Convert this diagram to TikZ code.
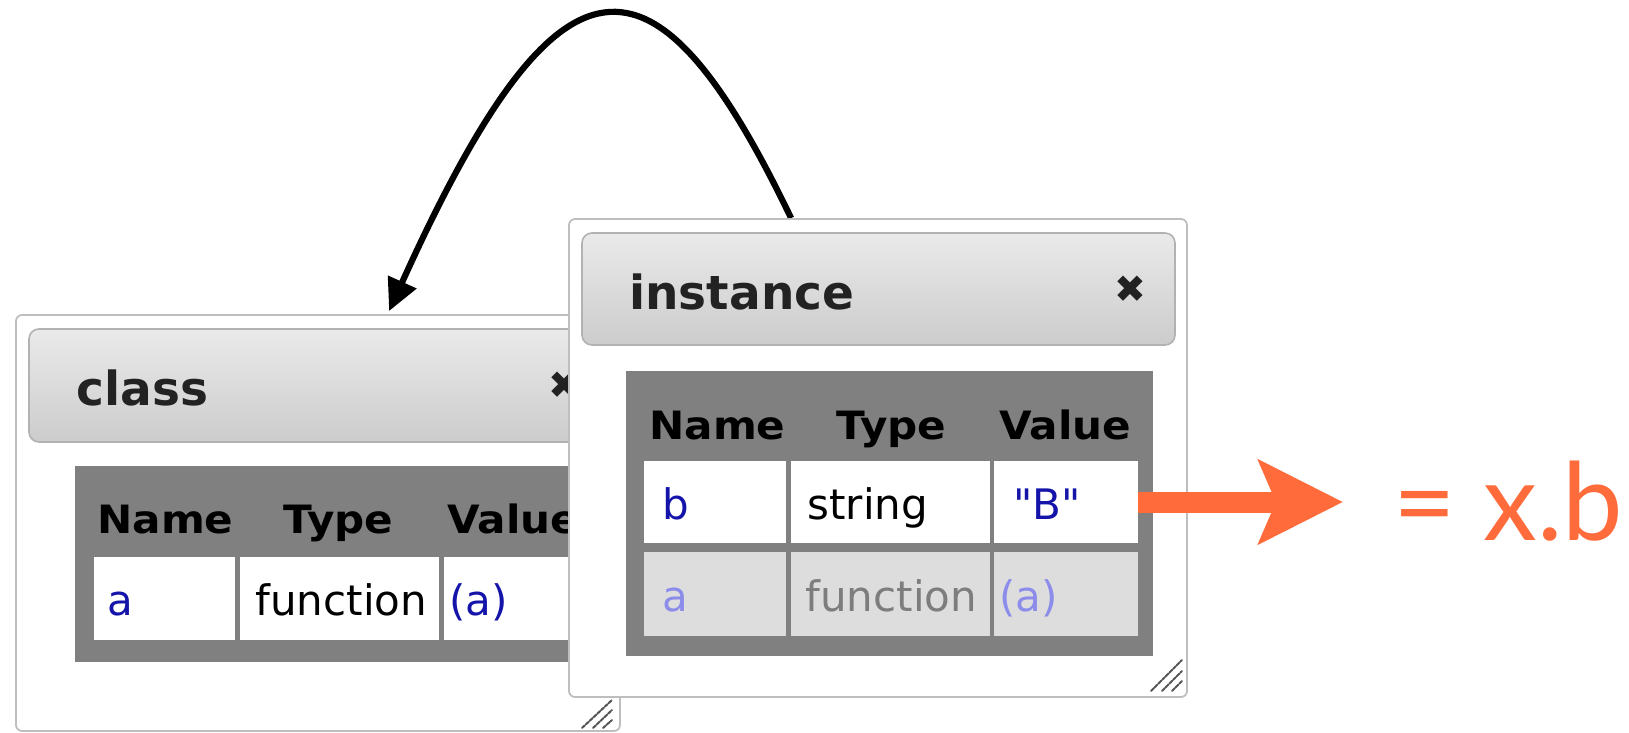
\documentclass[tikz,border=0pt]{standalone}
\usepackage{fontspec}
\usetikzlibrary{fit,arrows.meta,calc}
\newfontfamily\dvreg{DejaVu Sans}
\newfontfamily\dvbold{DejaVu Sans Bold}
\newfontfamily\dvboldw[FakeStretch=1.08]{DejaVu Sans Bold}
\newfontfamily\latofam{Lato}
\definecolor{winborder}{RGB}{190,190,190}
\definecolor{barborder}{RGB}{178,178,178}
\definecolor{bartop}{RGB}{234,234,234}
\definecolor{barbot}{RGB}{204,204,204}
\definecolor{tblgray}{RGB}{128,128,128}
\definecolor{cellgray}{RGB}{221,221,221}
\definecolor{blu}{RGB}{20,20,170}
\definecolor{lightblu}{RGB}{140,140,235}
\definecolor{midgray}{RGB}{125,125,125}
\definecolor{titletext}{RGB}{34,34,34}
\definecolor{orng}{RGB}{255,107,58}
\definecolor{gripgray}{RGB}{85,85,85}
\pgfdeclarelayer{back}
\pgfdeclarelayer{mid}
\pgfsetlayers{back,mid,main}
\begin{document}
\begin{tikzpicture}[x=0.5pt,y=-0.5pt,
  win/.style={draw=winborder, fill=white, rounded corners=3pt, line width=0.9pt, inner sep=0pt},
  titlebar/.style={draw=barborder, top color=bartop, bottom color=barbot, rounded corners=5pt, line width=0.8pt, inner sep=0pt},
  tbl/.style={fill=tblgray, inner sep=0pt},
  cellw/.style={fill=white, inner sep=0pt},
  cellg/.style={fill=cellgray, inner sep=0pt},
  ttl/.style={font=\dvbold\fontsize{23.5pt}{28pt}\selectfont, text=titletext, anchor=base west, inner sep=0pt},
  closex/.style={font=\dvreg\fontsize{19pt}{21pt}\selectfont, text=titletext, inner sep=0pt},
  hdr/.style={font=\dvboldw\fontsize{19.5pt}{24pt}\selectfont, text=black, anchor=base west, inner sep=0pt},
  txt/.style={font=\dvreg\fontsize{21pt}{25pt}\selectfont, anchor=base west, inner sep=0pt},
  grip/.style={draw=gripgray, line width=1pt, dash pattern=on 2pt off 0.6pt, line cap=round},
  arcarrow/.style={draw=black, line width=3.1pt, -{Triangle[length=16pt,width=15pt]}},
  bigarrow/.style={draw=orng, line width=10.5pt, -{Stealth[length=42pt,width=41.5pt,inset=8.5pt]}},
  bigtext/.style={font=\latofam\fontsize{54pt}{60pt}\selectfont, text=orng, anchor=base west, inner sep=0pt}
]
\useasboundingbox (0,0) rectangle (1629,733);

% ---------------- class window ----------------
\begin{pgfonlayer}{back}
\node[win, fit={(16,315) (620,731)}] (cls) {};
\node[titlebar, fit={(29,329) (607,442)}] (clsbar) {};
\node[ttl] (clsttl) at (76,405) {class};
\node[closex] (clsx) at (564,385) {✖};
\node[tbl, fit={(75,466) (600,662)}] (clstbl) {};
\node[hdr] (clsh1) at (97,533) {Name};
\node[hdr] (clsh2) at (283,533) {Type};
\node[hdr] (clsh3) at (447,533) {Value};
\node[cellw, fit={(94,557) (235,640)}] (clsc1) {};
\node[cellw, fit={(240,557) (439,640)}] (clsc2) {};
\node[cellw, fit={(444,557) (590,640)}] (clsc3) {};
\node[txt, text=blu] (clst1) at (107,615) {a};
\node[txt, text=black] (clst2) at (255,615) {function};
\node[txt, text=blu] (clst3) at (449,615) {(a)};
\draw[grip] (582,728) -- (612,700);
\draw[grip] (593,728) -- (612,710);
\draw[grip] (603,728) -- (612,720);
\end{pgfonlayer}

% ---------------- instance window ----------------
\node[win, fit={(569,219) (1187,697)}] (inst) {};
\node[titlebar, fit={(582,233) (1175,345)}] (instbar) {};
\node[ttl] (instttl) at (629,309) {instance};
\node[closex] (instx) at (1130,289) {✖};
\node[tbl, fit={(626,371) (1153,656)}] (insttbl) {};
\node[hdr] (insth1) at (649,439) {Name};
\node[hdr] (insth2) at (836,439) {Type};
\node[hdr] (insth3) at (999,439) {Value};
\node[cellw, fit={(644,461) (786,543)}] (instc11) {};
\node[cellw, fit={(791,461) (990,543)}] (instc12) {};
\node[cellw, fit={(994,461) (1138,543)}] (instc13) {};
\node[cellg, fit={(644,552) (786,636)}] (instc21) {};
\node[cellg, fit={(791,552) (990,636)}] (instc22) {};
\node[cellg, fit={(994,552) (1138,636)}] (instc23) {};
\node[txt, text=blu] (instt11) at (662,519) {b};
\node[txt, text=black] (instt12) at (807,519) {string};
\node[txt, text=blu] (instt13) at (1013,519) {"B"};
\node[txt, text=lightblu] (instt21) at (662,611) {a};
\node[txt, text=midgray] (instt22) at (805,611) {function};
\node[txt, text=lightblu] (instt23) at (999,611) {(a)};
\draw[grip] (1151,691) -- (1182,660);
\draw[grip] (1162,691) -- (1182,671);
\draw[grip] (1172,691) -- (1182,681);

% ---------------- curved arrow (between the two windows) ----------------
\begin{pgfonlayer}{mid}
\coordinate (arcstart) at ($(inst.north west)+(223,0)$);
\coordinate (arcend) at ($(cls.north west)+(374,-3)$);
\draw[arcarrow] (arcstart) .. controls (654,-67) and (560,-67) .. (arcend);
\end{pgfonlayer}

% ---------------- orange arrow and text ----------------
\node[bigtext] (xb) at (1393,540) {= x.b};
\draw[bigarrow, shorten >=25pt] (instc13.east) -- (instc13.east -| xb.west);
\end{tikzpicture}
\end{document}
